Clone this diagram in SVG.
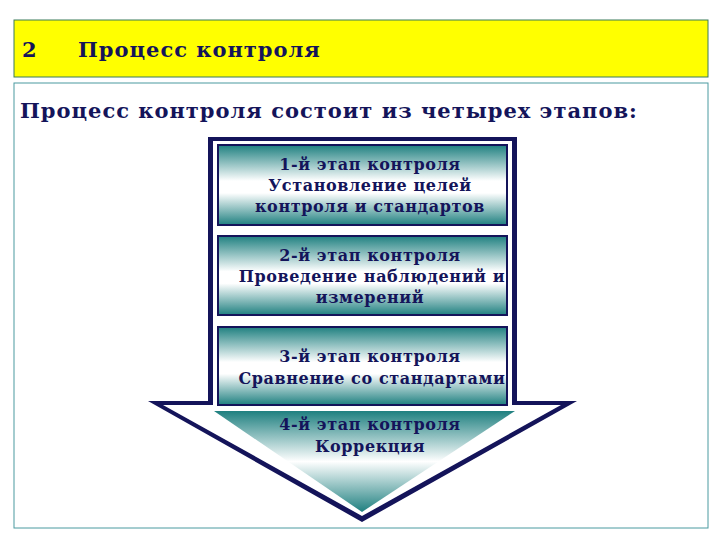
<svg xmlns="http://www.w3.org/2000/svg" width="720" height="540" viewBox="0 0 720 540">
<defs>
<linearGradient id="g" x1="0" y1="0" x2="0" y2="1">
<stop offset="0" stop-color="#1f8080"/><stop offset="0.45" stop-color="#ffffff"/><stop offset="0.6" stop-color="#ffffff"/><stop offset="1" stop-color="#1f8080"/>
</linearGradient>
<linearGradient id="g4" x1="0" y1="0" x2="0" y2="1">
<stop offset="0" stop-color="#1f8080"/><stop offset="0.5" stop-color="#ffffff"/><stop offset="1" stop-color="#1f8080"/>
</linearGradient>
<style>
.t{font-family:"DejaVu Serif","Liberation Serif",serif;font-weight:bold;fill:#14145a;text-anchor:middle;font-size:16px;letter-spacing:0.6px}
.h{font-family:"DejaVu Serif","Liberation Serif",serif;font-weight:bold;fill:#14145a;font-size:21px;letter-spacing:1px}
.box{fill:url(#g);stroke:#14145a;stroke-width:2}
</style>
</defs>
<rect width="720" height="540" fill="#fff"/>
<g id="header">
<rect x="14" y="20" width="694" height="57" fill="#ffff00" stroke="#3a7a5a" stroke-width="1"/>
<text class="h" x="22" y="57">2</text>
<text class="h" x="78" y="57">Процесс контроля</text>
</g>
<g id="content">
<rect x="14" y="83" width="694" height="445" fill="#fff" stroke="#4a9aa0" stroke-width="1"/>
<text class="h" x="20" y="118">Процесс контроля состоит из четырех этапов:</text>
</g>
<g id="arrow">
<path d="M208,137 H517 V401 H577 L362,522 L148,401 H208 Z" fill="#14145a"/>
<path d="M213,141 H512 V405 H561 L362,516 L163,405 H213 Z" fill="#fff"/>
</g>
<g id="stage1"><rect class="box" x="218" y="145" width="289" height="80"/>
<text class="t" x="370" y="170">1-й этап контроля</text><text class="t" x="370" y="191">Установление целей</text><text class="t" x="370" y="212">контроля и стандартов</text></g>
<g id="stage2"><rect class="box" x="218" y="236" width="289" height="79"/>
<text class="t" x="370" y="261">2-й этап контроля</text><text class="t" x="372" y="282">Проведение наблюдений и</text><text class="t" x="370" y="303">измерений</text></g>
<g id="stage3"><rect class="box" x="218" y="327" width="289" height="78"/>
<text class="t" x="370" y="362">3-й этап контроля</text><text class="t" x="372" y="384">Сравнение со стандартами</text></g>
<g id="stage4"><path d="M214,411 H515 L362,512 Z" fill="url(#g4)"/>
<text class="t" x="370" y="430">4-й этап контроля</text><text class="t" x="370" y="452">Коррекция</text></g>
</svg>
